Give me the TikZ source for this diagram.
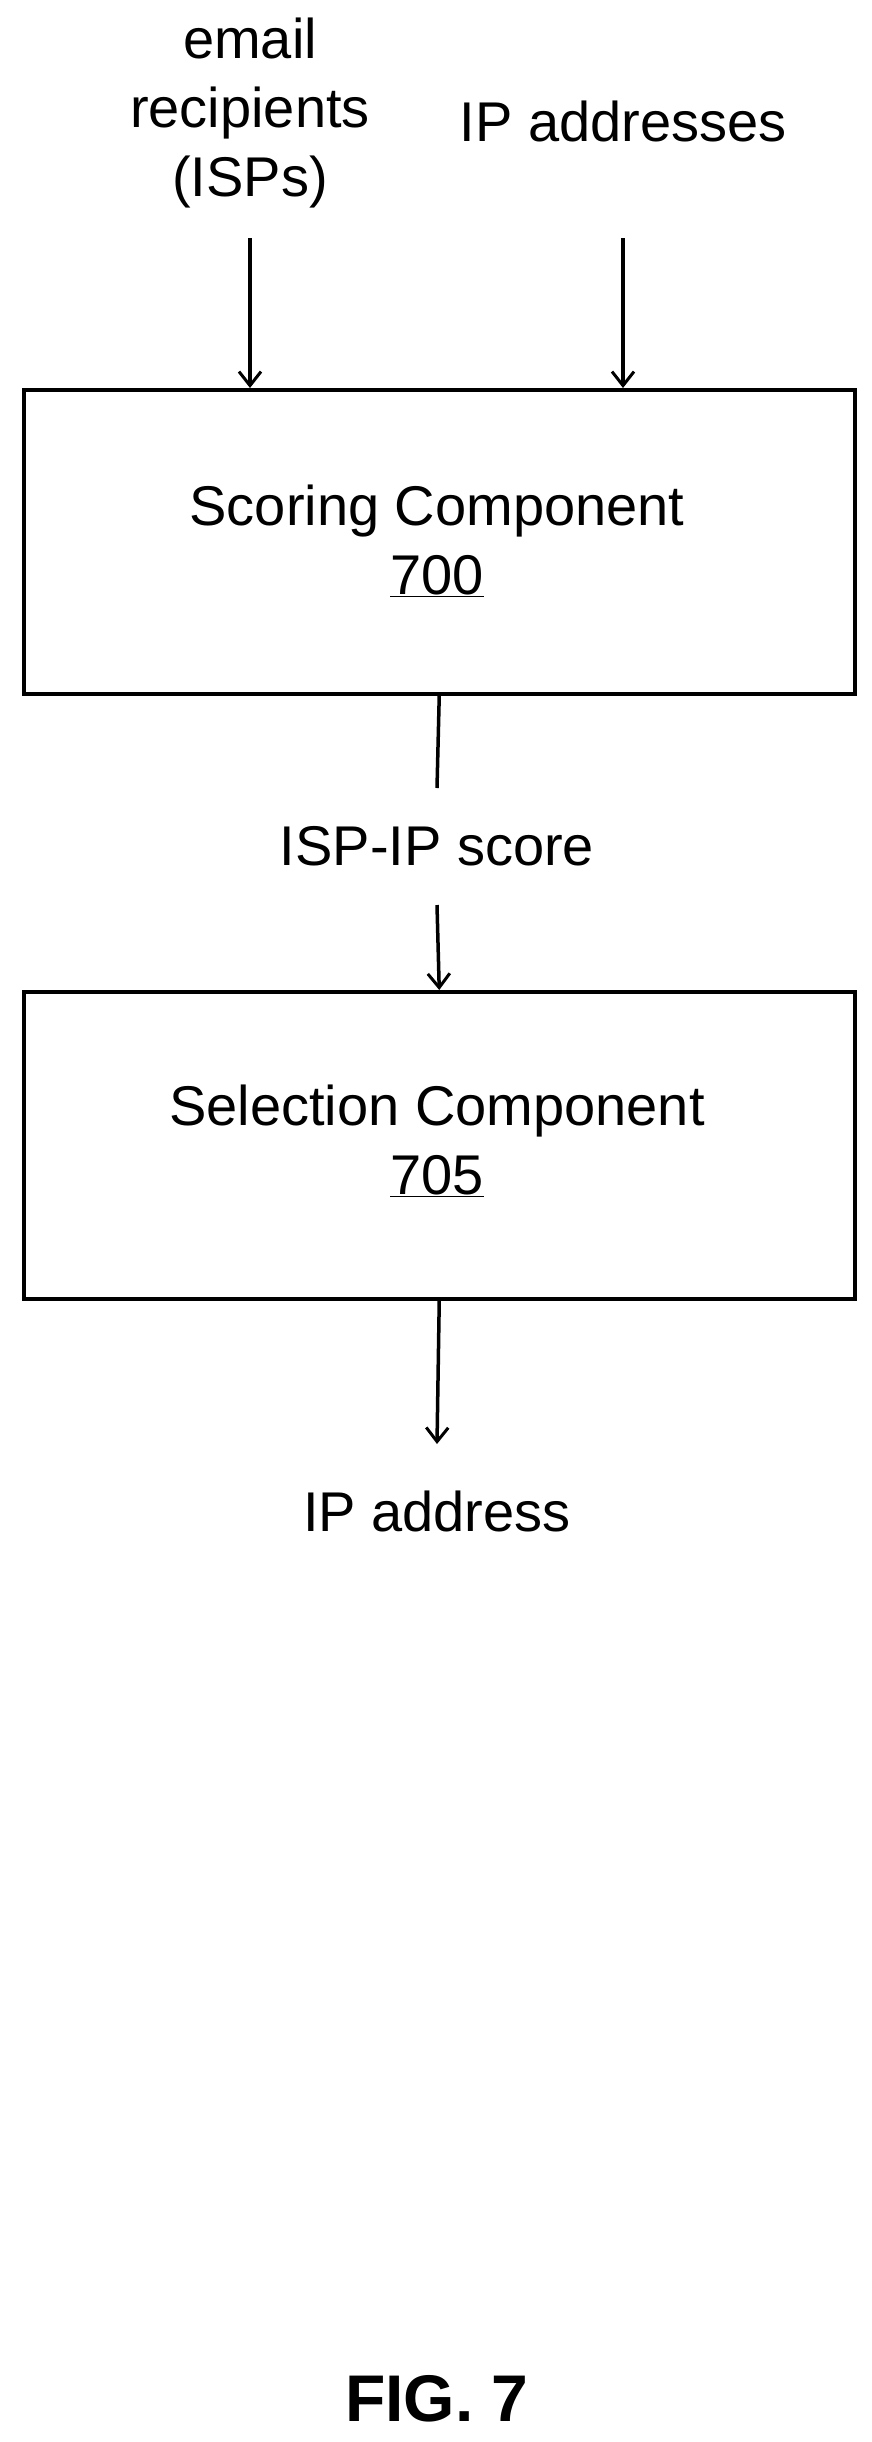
\documentclass[tikz,border=0pt]{standalone}
\usepackage{fontspec}
\setmainfont{Liberation Sans}
\usetikzlibrary{arrows.meta}
\begin{document}
\begin{tikzpicture}[x=1pt,y=-1pt,
  lbl/.style={font=\fontsize{56}{69}\selectfont,align=center,inner sep=0},
  box/.style={draw,line width=3.5pt},
  arr/.style={line width=3.5pt,-{Straight Barb[length=14pt,width=22pt,line width=3pt]}}]
\useasboundingbox (0,0) rectangle (872,2442);
\node[lbl] (em) at (250,113) {email\\recipients\\(ISPs)};
\node[lbl] (ip) at (623,121) {IP addresses};
\node[box,minimum width=831pt,minimum height=304pt,anchor=north west] (b1) at (22,388) {};
\node[lbl] (t1) at (437,541) {Scoring Component\\\underline{700}};
\coordinate (a1) at (250,238); \coordinate (a2) at (623,238);
\draw[arr] (a1) -- (a1 |- b1.north);
\draw[arr] (a2) -- (a2 |- b1.north);
\coordinate (l1) at (437,788);
\draw[line width=3.5pt] (b1.south) -- (l1);
\node[lbl] (sc) at (437,846) {ISP-IP score};
\coordinate (l2) at (437,905);
\node[box,minimum width=831pt,minimum height=307pt,anchor=north west] (b2) at (22,990) {};
\draw[arr] (l2) -- (b2.north);
\node[lbl] (t2) at (437,1141) {Selection Component\\\underline{705}};
\coordinate (l3) at (437,1444);
\draw[arr] (b2.south) -- (l3);
\node[lbl] (out) at (437,1511) {IP address};
\node[font=\fontsize{66}{70}\selectfont\bfseries,inner sep=0] (fig) at (437,2399) {FIG. 7};
\end{tikzpicture}
\end{document}
